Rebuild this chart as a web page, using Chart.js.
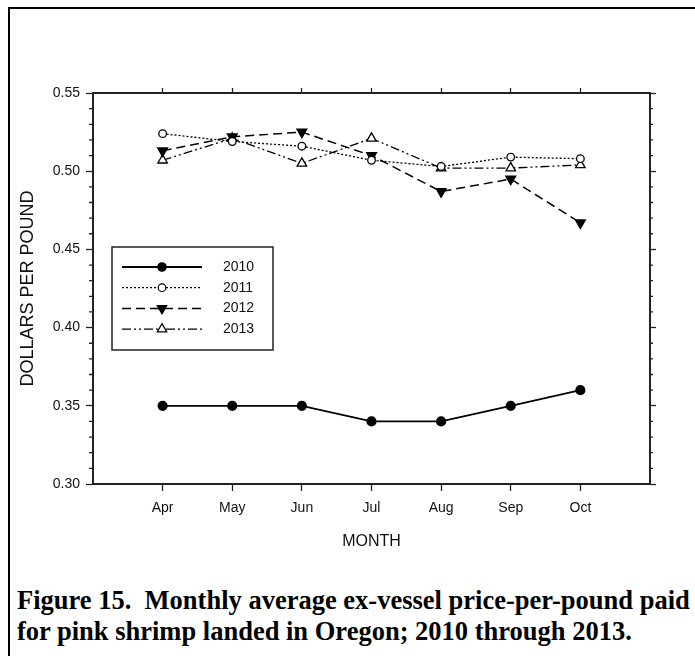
<!DOCTYPE html>
<html>
<head>
<meta charset="utf-8">
<script src="https://cdn.jsdelivr.net/npm/chart.js@4.4.1/dist/chart.umd.min.js"></script>
<style>
  html, body { margin: 0; padding: 0; background: #fff; }
  body { width: 695px; height: 656px; position: relative; overflow: hidden; }
  #frame { position: absolute; left: 8px; top: 7px; width: 720px; height: 700px; border-left: 2px solid #000; border-top: 2px solid #000; }
  #plot { position: absolute; left: 0; top: 0; }
  #caption { position: absolute; left: 17px; top: 585px; font: bold 26.5px "Liberation Serif", "Times New Roman", serif; line-height: 31px; white-space: nowrap; color: #000; }
</style>
</head>
<body>
<div id="frame"></div>
<canvas id="plot" width="695" height="560"></canvas>
<div id="caption">Figure 15.&nbsp; Monthly average ex-vessel price-per-pound paid<br>for pink shrimp landed in Oregon; 2010 through 2013.</div>
<script>
const months = ['Apr', 'May', 'Jun', 'Jul', 'Aug', 'Sep', 'Oct'];
const years = ['2010', '2011', '2012', '2013'];
const p2010 = [0.350, 0.350, 0.350, 0.340, 0.340, 0.350, 0.360];
const p2011 = [0.524, 0.519, 0.516, 0.507, 0.503, 0.509, 0.508];
const p2012 = [0.513, 0.522, 0.525, 0.510, 0.487, 0.495, 0.467];
const p2013 = [0.507, 0.521, 0.505, 0.521, 0.502, 0.502, 0.504];
const yTicks = [0.30, 0.35, 0.40, 0.45, 0.50, 0.55];
const yMinorStep = 0.01;

Chart.defaults.font.family = '"Liberation Sans", Arial, sans-serif';
Chart.defaults.color = '#111';

const pts = arr => arr.map((v, i) => ({ x: i + 1, y: v }));
const monthTicks = s => { s.ticks = months.map((m, i) => ({ value: i + 1 })); };
const majorTicks = s => { s.ticks = yTicks.map(v => ({ value: v })); };

// draws a marker like the dataset's point style
function drawMarker(ctx, ds, x, y) {
  const r = ds.pointRadius;
  ctx.beginPath();
  if (ds.pointStyle === 'triangle') {
    let rad = (ds.pointRotation || 0) * Math.PI / 180;
    for (let k = 0; k < 3; k++) {
      const px = x + Math.sin(rad) * r, py = y - Math.cos(rad) * r;
      k ? ctx.lineTo(px, py) : ctx.moveTo(px, py);
      rad += 2 * Math.PI / 3;
    }
    ctx.closePath();
  } else {
    ctx.arc(x, y, r, 0, Math.PI * 2);
  }
  ctx.fillStyle = ds.pointBackgroundColor;
  ctx.fill();
  ctx.lineWidth = 1.2;
  ctx.strokeStyle = '#000';
  ctx.stroke();
}

const minorTicks = {
  id: 'minorTicks',
  afterDraw(chart) {
    const { ctx } = chart;
    const ys = chart.scales.y, yr = chart.scales.y2;
    const n = Math.round((yTicks[yTicks.length - 1] - yTicks[0]) / yMinorStep);
    ctx.save();
    ctx.strokeStyle = '#222';
    ctx.lineWidth = 1.3;
    ctx.beginPath();
    for (let k = 1; k < n; k++) {
      if (k % 5 === 0) continue;
      const py = ys.getPixelForValue(yTicks[0] + k * yMinorStep);
      ctx.moveTo(ys.right - 4, py); ctx.lineTo(ys.right, py);
      ctx.moveTo(yr.left, py); ctx.lineTo(yr.left + 3, py);
    }
    ctx.stroke();
    ctx.restore();
  }
};

const boxLegend = {
  id: 'boxLegend',
  afterDraw(chart) {
    const { ctx, chartArea: a } = chart;
    const x0 = a.left + 19, y0 = a.top + 154, w = 161, h = 103;
    ctx.save();
    ctx.fillStyle = '#fff';
    ctx.fillRect(x0, y0, w, h);
    ctx.strokeStyle = '#222';
    ctx.lineWidth = 1.5;
    ctx.strokeRect(x0, y0, w, h);
    chart.data.datasets.forEach((ds, i) => {
      const y = y0 + 20 + i * 20.7;
      ctx.strokeStyle = '#000';
      ctx.lineWidth = ds.borderWidth;
      ctx.setLineDash(ds.borderDash || []);
      ctx.beginPath(); ctx.moveTo(x0 + 10, y); ctx.lineTo(x0 + 90, y); ctx.stroke();
      ctx.setLineDash([]);
      drawMarker(ctx, ds, x0 + 50, y);
      ctx.fillStyle = '#111';
      ctx.font = '14px "Liberation Sans", Arial, sans-serif';
      ctx.textBaseline = 'middle';
      ctx.fillText(ds.label, x0 + 111, y);
    });
    ctx.restore();
  }
};

new Chart(document.getElementById('plot'), {
  type: 'line',
  data: {
    datasets: [
      { label: years[0], data: pts(p2010), borderColor: '#000', borderWidth: 1.8, pointStyle: 'circle', pointRadius: 4.2, pointBackgroundColor: '#000', pointBorderColor: '#000' },
      { label: years[1], data: pts(p2011), borderColor: '#000', borderWidth: 1.3, borderDash: [2, 2], pointStyle: 'circle', pointRadius: 3.8, pointBackgroundColor: '#fff', pointBorderColor: '#000' },
      { label: years[2], data: pts(p2012), borderColor: '#000', borderWidth: 1.5, borderDash: [9, 5], pointStyle: 'triangle', pointRotation: 180, pointRadius: 5.5, pointBackgroundColor: '#000', pointBorderColor: '#000' },
      { label: years[3], data: pts(p2013), borderColor: '#000', borderWidth: 1.3, borderDash: [9, 3, 2, 3, 2, 3], pointStyle: 'triangle', pointRadius: 5.5, pointBackgroundColor: '#fff', pointBorderColor: '#000' }
    ]
  },
  options: {
    responsive: false,
    animation: false,
    layout: { padding: 0 },
    elements: { line: { tension: 0 }, point: { borderWidth: 1.2 } },
    plugins: { legend: { display: false }, tooltip: { enabled: false } },
    scales: {
      x: {
        type: 'linear', position: 'bottom', min: 0, max: months.length + 1,
        afterBuildTicks: monthTicks,
        afterFit: s => { s.height = 76; },
        ticks: { callback: v => months[v - 1], font: { size: 14 }, padding: 9, maxRotation: 0, autoSkip: false },
        grid: { drawOnChartArea: false, tickLength: 7, tickColor: '#222', tickWidth: 1.3 },
        border: { color: '#222', width: 2 },
        title: { display: true, text: 'MONTH', font: { size: 16 }, padding: { top: 0, bottom: 9 } }
      },
      x2: {
        type: 'linear', position: 'top', min: 0, max: months.length + 1,
        afterBuildTicks: monthTicks,
        afterFit: s => { s.height = 93; },
        ticks: { display: false },
        grid: { drawOnChartArea: false, tickLength: 5, tickColor: '#222', tickWidth: 1.3 },
        border: { color: '#222', width: 2 }
      },
      y: {
        type: 'linear', position: 'left', min: yTicks[0], max: yTicks[yTicks.length - 1],
        afterBuildTicks: majorTicks,
        afterFit: s => { s.width = 93; },
        ticks: { callback: v => v.toFixed(2), font: { size: 14 }, padding: 6 },
        grid: { drawOnChartArea: false, tickLength: 7, tickColor: '#222', tickWidth: 1.3 },
        border: { color: '#222', width: 2 },
        title: { display: true, text: 'DOLLARS PER POUND', font: { size: 18 }, padding: { top: 17, bottom: 0 } }
      },
      y2: {
        type: 'linear', position: 'right', min: yTicks[0], max: yTicks[yTicks.length - 1],
        afterBuildTicks: majorTicks,
        afterFit: s => { s.width = 45; },
        ticks: { display: false },
        grid: { drawOnChartArea: false, tickLength: 6, tickColor: '#222', tickWidth: 1.3 },
        border: { color: '#222', width: 2 }
      }
    }
  },
  plugins: [minorTicks, boxLegend]
});
</script>
</body>
</html>
